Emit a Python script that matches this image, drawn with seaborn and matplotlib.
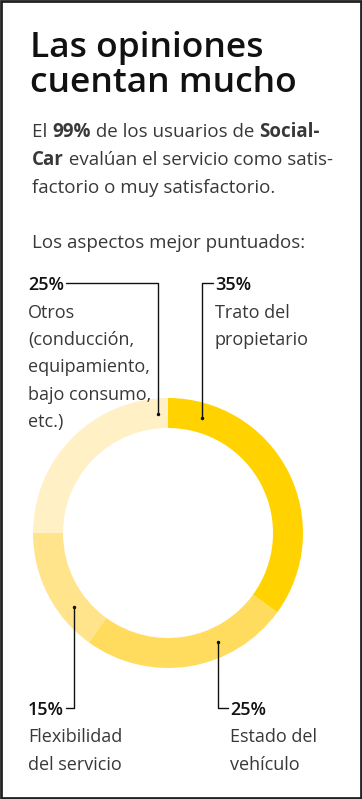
import numpy as np
import matplotlib
matplotlib.use("Agg")
import matplotlib.pyplot as plt
import seaborn as sns

# datos
categorias = ["Trato del propietario", "Estado del vehículo", "Flexibilidad del servicio", "Otros"]
porcentajes = [35, 25, 15, 25]
colores = ["#FFD200", "#FFDC5E", "#FFE48C", "#FFF0C6"]

titulo = ["Las opiniones", "cuentan mucho"]
intro = [
    [("El ", False), ("99%", True), (" de los usuarios de ", False), ("Social-", True)],
    [("Car", True), (" evalúan el servicio como satis-", False)],
    [("factorio o muy satisfactorio.", False)],
]
subtitulo = "Los aspectos mejor puntuados:"

etiquetas = {
    "Otros": ("25%", ["Otros", "(conducción,", "equipamiento,", "bajo consumo,", "etc.)"]),
    "Trato del propietario": ("35%", ["Trato del", "propietario"]),
    "Flexibilidad del servicio": ("15%", ["Flexibilidad", "del servicio"]),
    "Estado del vehículo": ("25%", ["Estado del", "vehículo"]),
}

sns.set_theme(style="white")
plt.rcParams["font.family"] = ["Open Sans", "DejaVu Sans"]

W, H = 362, 799
fig = plt.figure(figsize=(W / 100, H / 100), dpi=100)
fig.patch.set_facecolor("white")

# donut
cx, cy, R, ancho = 168, 533, 135, 30
ax_pie = fig.add_axes([(cx - R) / W, (H - cy - R) / H, 2 * R / W, 2 * R / H])
ax_pie.pie(porcentajes, colors=colores, startangle=90, counterclock=False,
           radius=1, wedgeprops=dict(width=ancho / R, linewidth=0))
ax_pie.set_xlim(-1, 1)
ax_pie.set_ylim(-1, 1)
ax_pie.axis("off")

# capa de texto en píxeles
ax = fig.add_axes([0, 0, 1, 1], zorder=5)
ax.set_xlim(0, W)
ax.set_ylim(H, 0)
ax.axis("off")
ax.patch.set_alpha(0)

ax.add_patch(plt.Rectangle((1, 1), W - 2, H - 2, fill=False, edgecolor="#222222", linewidth=2))

oscuro = "#111111"
gris = "#383838"

for i, linea in enumerate(titulo):
    ax.text(30, 57 + i * 35, linea, fontsize=25.5, fontweight="semibold", color=oscuro, va="baseline")

renderer = fig.canvas.get_renderer()
for i, partes in enumerate(intro):
    x = 32
    for txt, negrita in partes:
        t = ax.text(x, 137 + i * 28, txt, fontsize=13.5, color=gris,
                    fontweight="bold" if negrita else "normal", va="baseline")
        bb = t.get_window_extent(renderer)
        x += bb.width
ax.text(32, 248, subtitulo, fontsize=13.5, color=gris, fontweight="normal", va="baseline")

# etiquetas y líneas guía
r_mid = R - ancho / 2 - 0.5
pos = {
    "Otros": (28, 290, 158, "arriba"),
    "Trato del propietario": (215, 290, 202, "arriba"),
    "Flexibilidad del servicio": (28, 715, 74, "abajo"),
    "Estado del vehículo": (230, 715, 218, "abajo"),
}
for cat in categorias:
    pct, lineas = etiquetas[cat]
    x0, y0, xl, lado = pos[cat]
    t = ax.text(x0, y0, pct, fontsize=13, fontweight="semibold", color=oscuro, va="baseline")
    for j, l in enumerate(lineas):
        ax.text(x0, y0 + 27.5 * (j + 1), l, fontsize=13, fontweight="normal", color=gris, va="baseline")
    dy = np.sqrt(r_mid ** 2 - (xl - cx) ** 2)
    ya = cy - dy if lado == "arriba" else cy + dy
    yl = y0 - 7
    bb = t.get_window_extent(renderer)
    xe = x0 + bb.width + 2 if xl > x0 else x0 - 2
    ax.plot([xe, xl, xl], [yl, yl, ya], color=oscuro, linewidth=1)
    ax.plot([xl], [ya], "o", color=oscuro, markersize=1.5)

fig.savefig("out.png", dpi=100)
